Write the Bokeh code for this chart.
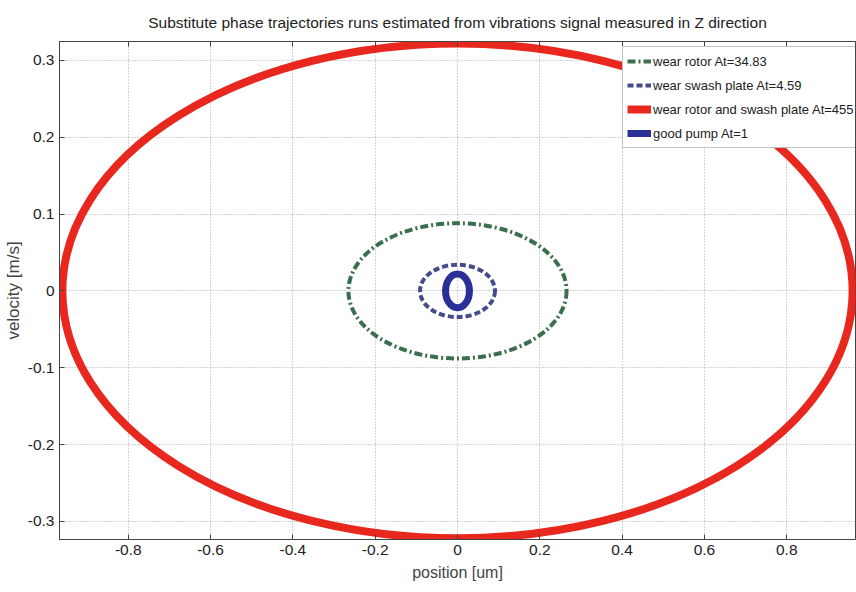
from bokeh.plotting import figure
from bokeh.models import Range1d, FixedTicker, LinearAxis, Legend, LegendItem, ColumnDataSource
from bokeh.embed import file_html
from bokeh.resources import INLINE

# ---- data ----
series_names = ["wear rotor At=34.83", "wear swash plate At=4.59",
                "wear rotor and swash plate At=455", "good pump At=1"]
amp_position = [0.265, 0.091, 0.960, 0.029]   # half-width of each trajectory [um]
amp_velocity = [0.088, 0.034, 0.322, 0.022]   # half-height of each trajectory [m/s]
center_x = [0.0, 0.0, 0.0, 0.0]
center_y = [0.0, 0.0, 0.0, 0.0]

x_ticks = [-0.8, -0.6, -0.4, -0.2, 0.0, 0.2, 0.4, 0.6, 0.8]
x_tick_labels = ["-0.8", "-0.6", "-0.4", "-0.2", "0", "0.2", "0.4", "0.6", "0.8"]
y_ticks = [-0.3, -0.2, -0.1, 0.0, 0.1, 0.2, 0.3]
y_tick_labels = ["-0.3", "-0.2", "-0.1", "0", "0.1", "0.2", "0.3"]

# ---- styles ----
colors = ["#3b6e4e", "#454c8c", "#e8281f", "#2b3096"]
widths = [4, 4, 8, 7]
dashes = ["8 3 2 3", "6 3", "solid", "solid"]

FONT = "Liberation Sans"

p = figure(width=856, height=592, output_backend="svg", toolbar_location=None,
           x_range=Range1d(-0.967, 0.967), y_range=Range1d(-0.3235, 0.3245),
           min_border_left=58, min_border_right=1, min_border_top=41, min_border_bottom=53)

p.title.text = "Substitute phase trajectories runs estimated from vibrations signal measured in Z direction"
p.title.align = "center"
p.title.text_font = FONT
p.title.text_font_size = "15.5px"
p.title.text_font_style = "normal"
p.title.text_color = "#222222"
p.title.standoff = 22

p.outline_line_color = "#444444"
p.outline_line_width = 1

for ax, ticks, labels in ((p.xaxis[0], x_ticks, x_tick_labels), (p.yaxis[0], y_ticks, y_tick_labels)):
    ax.ticker = FixedTicker(ticks=ticks)
    ax.major_label_overrides = {t: l for t, l in zip(ticks, labels)}
    ax.major_tick_in = 5
    ax.major_tick_out = 0
    ax.minor_tick_in = 0
    ax.minor_tick_out = 0
    ax.axis_line_color = "#444444"
    ax.major_tick_line_color = "#444444"
    ax.major_label_text_font = FONT
    ax.major_label_text_font_size = "15.5px"
    ax.major_label_text_color = "#222222"
    ax.major_label_standoff = 5

p.xaxis.axis_label = "position [um]"
p.xaxis.axis_label_text_font = FONT
p.xaxis.axis_label_text_font_size = "16px"
p.xaxis.axis_label_text_font_style = "normal"
p.xaxis.axis_label_standoff = 6
p.yaxis.axis_label = "velocity [m/s]"
p.yaxis.axis_label_text_font = FONT
p.yaxis.axis_label_text_font_size = "17px"
p.yaxis.axis_label_text_font_style = "normal"
p.yaxis.axis_label_standoff = 2

top_axis = LinearAxis(ticker=FixedTicker(ticks=x_ticks), major_label_text_font_size="0px",
                      major_tick_in=5, major_tick_out=0, minor_tick_in=0, minor_tick_out=0,
                      axis_line_color="#444444", major_tick_line_color="#444444")
p.add_layout(top_axis, "above")

p.xgrid.ticker = FixedTicker(ticks=x_ticks)
p.ygrid.ticker = FixedTicker(ticks=y_ticks)
for g in (p.xgrid, p.ygrid):
    g.grid_line_color = "#a8a8a8"
    g.grid_line_dash = "1 2"
    g.grid_line_width = 1

# draw trajectories (red first so small ones are on top)
order = [2, 0, 1, 3]
for i in order:
    src = ColumnDataSource(dict(x=[center_x[i]], y=[center_y[i]],
                                w=[2 * amp_position[i]], h=[2 * amp_velocity[i]]))
    p.ellipse(x="x", y="y", width="w", height="h", source=src, fill_color=None,
              line_color=colors[i], line_width=widths[i], line_dash=dashes[i])

# legend entries: single-point line renderers (draw nothing in the plot)
items = []
for i in range(4):
    r = p.line(x=center_x[i:i + 1], y=center_y[i:i + 1], line_color=colors[i],
               line_width=widths[i] if i != 2 else 8, line_dash=dashes[i])
    items.append(LegendItem(label=series_names[i], renderers=[r]))

legend = Legend(items=items, location=(563, 391))
legend.label_text_font = FONT
legend.label_text_font_size = "13px"
legend.label_text_color = "#222222"
legend.glyph_width = 24
legend.glyph_height = 20
legend.label_height = 20
legend.label_standoff = 2
legend.spacing = 4
legend.padding = 4
legend.margin = 0
legend.border_line_color = "#888888"
legend.border_line_width = 1
legend.background_fill_alpha = 1
p.add_layout(legend, "center")

open("out.html", "w").write(file_html(p, INLINE))
